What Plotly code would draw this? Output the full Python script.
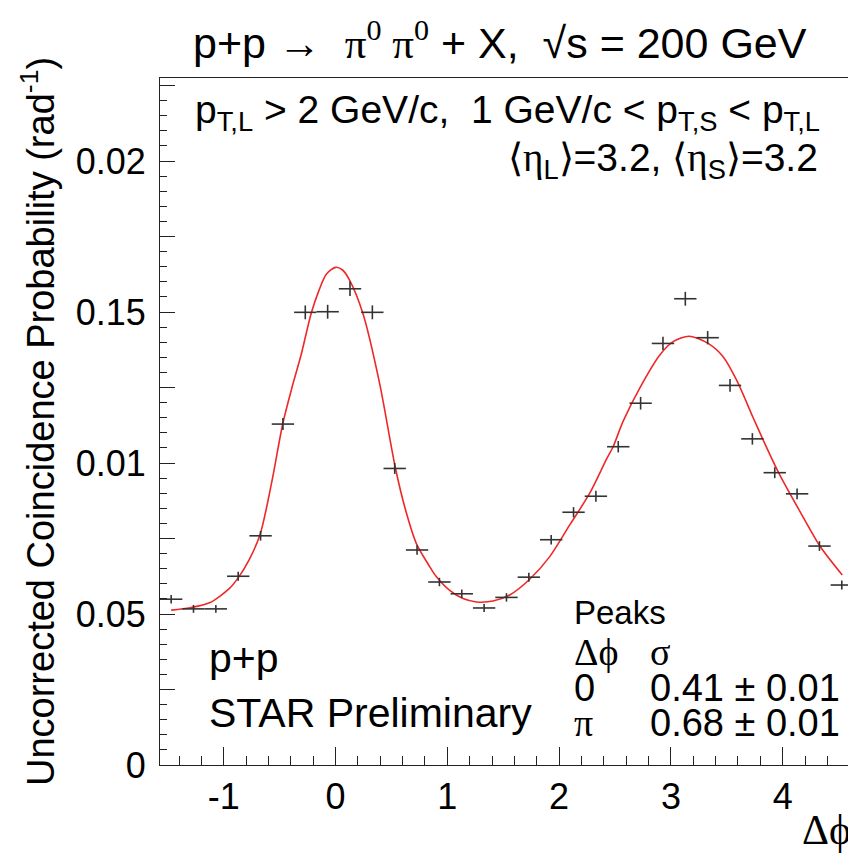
import plotly.graph_objects as go

# ---------------- data ----------------
bin_centers = [-1.471, -1.271, -1.071, -0.871, -0.671, -0.471, -0.271, -0.071,
               0.129, 0.329, 0.529, 0.729, 0.929, 1.129, 1.329, 1.529, 1.729,
               1.929, 2.129, 2.329, 2.529, 2.729, 2.929, 3.129, 3.329, 3.529,
               3.729, 3.929, 4.129, 4.329, 4.529]
probability = [0.00549, 0.00517, 0.00517, 0.00625, 0.00759, 0.01129, 0.01499,
               0.01501, 0.01577, 0.01499, 0.00982, 0.00712, 0.00606, 0.00567,
               0.00520, 0.00555, 0.00622, 0.00746, 0.00837, 0.00890, 0.01054,
               0.01198, 0.01396, 0.01544, 0.01415, 0.01257, 0.01080, 0.00968,
               0.00898, 0.00725, 0.00596]
probability_err = [0.00014, 0.00013, 0.00013, 0.00015, 0.00016, 0.00020, 0.00023,
                   0.00023, 0.00024, 0.00023, 0.00018, 0.00016, 0.00014, 0.00014,
                   0.00013, 0.00014, 0.00015, 0.00016, 0.00017, 0.00018, 0.00019,
                   0.00021, 0.00022, 0.00023, 0.00022, 0.00021, 0.00019, 0.00018,
                   0.00018, 0.00016, 0.00015]
bin_half_width = 0.1

fit_x = [-1.471, -1.30, -1.128, -0.949, -0.875, -0.770, -0.674, -0.572, -0.472,
         -0.390, -0.307, -0.218, -0.150, -0.083, 0.0, 0.060, 0.125, 0.244, 0.394,
         0.534, 0.622, 0.722, 0.842, 0.901, 1.021, 1.140, 1.260, 1.408, 1.558,
         1.737, 1.916, 2.095, 2.274, 2.423, 2.483, 2.572, 2.731, 2.901, 3.020,
         3.163, 3.333, 3.467, 3.587, 3.736, 3.826, 3.960, 4.154, 4.333, 4.533]
fit_y = [0.00513, 0.00521, 0.00537, 0.00585, 0.00618, 0.00682, 0.00765, 0.00935,
         0.01131, 0.01250, 0.01360, 0.01496, 0.01570, 0.01625, 0.01648, 0.01640,
         0.01606, 0.01496, 0.01264, 0.00986, 0.00850, 0.00734, 0.00657, 0.00624,
         0.00578, 0.00551, 0.00540, 0.00543, 0.00563, 0.00615, 0.00690, 0.00795,
         0.00900, 0.01012, 0.01054, 0.01138, 0.01255, 0.01358, 0.01402, 0.01420,
         0.01396, 0.01352, 0.01275, 0.01150, 0.01076, 0.00971, 0.00840, 0.00725,
         0.00629]

y_tickvals = [0, 0.0025, 0.005, 0.0075, 0.01, 0.0125, 0.015, 0.0175, 0.02, 0.0225]
y_ticktext = ["0", "", "0.05", "", "0.01", "", "0.15", "", "0.02", ""]
x_tickvals = [-1, 0, 1, 2, 3, 4]
x_ticktext = ["-1", "0", "1", "2", "3", "4"]

# ---------------- figure ----------------
OFF = 8                      # page body margin in the browser
W, H = 856 - OFF, 855 - OFF
ML, MR, MT, MB = 160 - OFF, 3, 78 - OFF, 90
PW, PH = W - ML - MR, H - MT - MB

def px(xp):
    return (xp - OFF - ML) / PW

def py(yp):
    return (H - MB - (yp - OFF)) / PH

SANS = "Liberation Sans, Arial, sans-serif"
SERIF = "Liberation Serif"

fig = go.Figure()
fig.add_trace(go.Scatter(
    x=fit_x, y=fit_y, mode="lines",
    line=dict(color="rgb(238,40,40)", width=1.6, shape="spline", smoothing=0.8),
    hoverinfo="skip", showlegend=False))
fig.add_trace(go.Scatter(
    x=bin_centers, y=probability, mode="markers",
    marker=dict(size=1, color="rgba(0,0,0,0)"),
    error_x=dict(type="constant", value=bin_half_width, width=0, thickness=1.6, color="#333"),
    error_y=dict(type="data", array=probability_err, width=0, thickness=1.6, color="#333"),
    showlegend=False))

axis_common = dict(showgrid=False, zeroline=False, showline=True, linecolor="#222",
                   linewidth=1, mirror=True, ticks="inside", tickcolor="#222",
                   tickwidth=1, tickfont=dict(family=SANS, size=36, color="black"))

fig.update_xaxes(range=[-1.5708, 4.6292], tickmode="array", tickvals=x_tickvals,
                 ticktext=x_ticktext, ticklen=18,
                 minor=dict(dtick=0.2, tick0=0, ticklen=9, ticks="inside", tickcolor="#222"),
                 **axis_common)
fig.update_yaxes(range=[0, 0.02275], tickmode="array", tickvals=y_tickvals,
                 ticktext=y_ticktext, ticklen=15, ticklabelstandoff=6,
                 minor=dict(dtick=0.0005, tick0=0, ticklen=7, ticks="inside", tickcolor="#222"),
                 **axis_common)

def greek(s):
    return f'<span style="font-family:{SERIF}">{s}</span>'

ann = []
def add(text, x, y, size, xanchor="left", yanchor="middle", angle=0, family=SANS):
    ann.append(dict(text=text, x=px(x), y=py(y), xref="paper", yref="paper",
                    xanchor=xanchor, yanchor=yanchor, showarrow=False, textangle=angle,
                    font=dict(family=family, size=size, color="black")))

add("p+p \u2192  " + greek("\u03c0<sup>0</sup> \u03c0<sup>0</sup>") + " + X,  \u221as = 200 GeV",
    500, 40, 43, xanchor="center")
add("p<sub>T,L</sub> &gt; 2 GeV/c,  1 GeV/c &lt; p<sub>T,S</sub> &lt; p<sub>T,L</sub>",
    822, 112, 39, xanchor="right")
add("\u27e8" + greek("\u03b7") + "<sub>L</sub>\u27e9=3.2, \u27e8" + greek("\u03b7")
    + "<sub>S</sub>\u27e9=3.2", 820, 160, 39, xanchor="right")
add("p+p", 207, 658, 41)
add("STAR Preliminary", 207, 713, 41)
add("Peaks", 572, 612, 33)
add("\u0394\u03d5", 572, 652, 38, family=SERIF)
add("\u03c3", 648, 652, 38, family=SERIF)
add("0", 572, 688, 38)
add("0.41 \u00b1 0.01", 648, 688, 38)
add("\u03c0", 572, 723, 38, family=SERIF)
add("0.68 \u00b1 0.01", 648, 723, 38)
add("\u0394\u03d5", 853, 830, 42, xanchor="right", family=SERIF)
add("Uncorrected Coincidence Probability (rad<sup>-1</sup>)", 38, 422, 38,
    xanchor="center", angle=-90)

fig.update_layout(width=W, height=H, margin=dict(l=ML, r=MR, t=MT, b=MB),
                  paper_bgcolor="white", plot_bgcolor="white", annotations=ann,
                  showlegend=False)

fig.write_html("out.html")
